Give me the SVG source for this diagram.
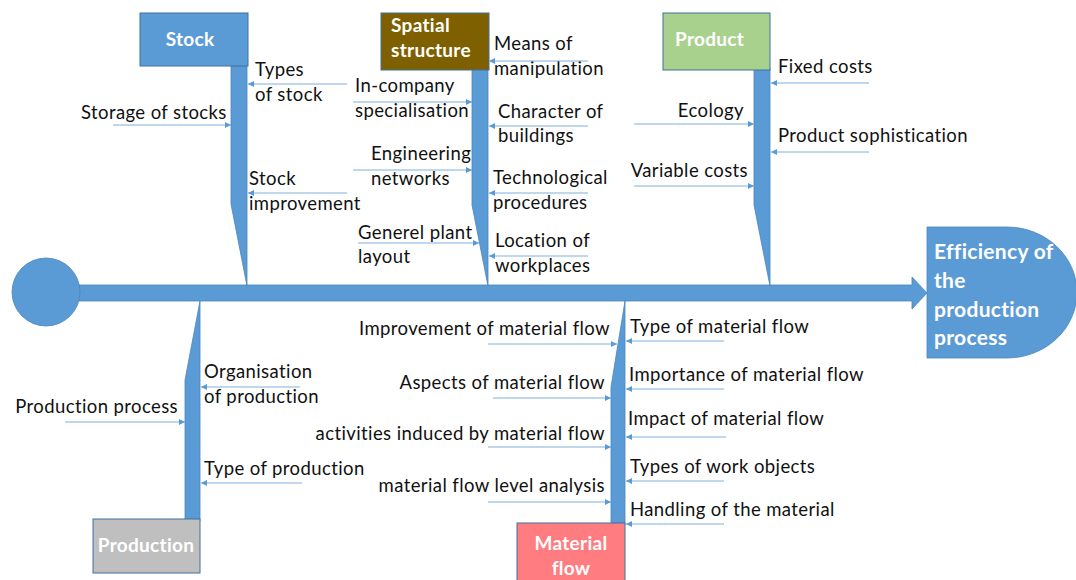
<svg xmlns="http://www.w3.org/2000/svg" width="1076" height="580" viewBox="0 0 1076 580">
  <style>
    .bone { fill: #5B9BD5; stroke: #4A86BE; stroke-width: 0.8; }
    .box { stroke: #41719C; stroke-width: 1; }
    .cause { fill: none; stroke: #7FB0DF; stroke-width: 1; marker-end: url(#tip); }
    .t { font-family: Lato, "Liberation Sans", sans-serif; font-size: 18.5px; letter-spacing: 0.4px; fill: #111; }
    .h { font-family: Lato, "Liberation Sans", sans-serif; font-weight: bold; font-size: 19px; letter-spacing: 0.3px; fill: #fff; }
    .head { font-family: Lato, "Liberation Sans", sans-serif; font-weight: bold; font-size: 21px; letter-spacing: 0.3px; fill: #fff; }
    .r { text-anchor: end; }
    .c { text-anchor: middle; }
  </style>
  <defs>
    <marker id="tip" markerUnits="userSpaceOnUse" markerWidth="7" markerHeight="7" refX="6" refY="3.5" orient="auto">
      <path d="M0,0.5 L6,3.5 L0,6.5 Z" fill="#5B9BD5"/>
    </marker>
  </defs>
  <rect width="1076" height="580" fill="#fff"/>

  <!-- main spine with tail circle and arrow head -->
  <g id="spine">
    <path class="bone" d="M78,285 H912 V277 L927,293 L912,309 V301 H78 Z"/>
    <circle class="bone" cx="46" cy="292" r="34" stroke="#41719C"/>
  </g>

  <!-- effect -->
  <g id="effect">
    <path class="bone" stroke="#41719C" d="M927,227 H1007 A70,65.5 0 0 1 1007,358 H927 Z"/>
    <text class="head" x="934" y="259">Efficiency of</text>
    <text class="head" x="934" y="288">the</text>
    <text class="head" x="934" y="317">production</text>
    <text class="head" x="934" y="345">process</text>
  </g>

  <!-- Stock -->
  <g id="stock">
    <path class="bone" d="M231,65 H247 V286 L231,204 Z"/>
    <rect class="box" x="140" y="13" width="108" height="53" fill="#5B9BD5"/>
    <text class="h c" x="190" y="46">Stock</text>
    <text class="t" x="81" y="119">Storage of stocks</text>
    <text class="t" x="255" y="76">Types</text>
    <text class="t" x="255" y="101">of stock</text>
    <text class="t" x="249" y="185">Stock</text>
    <text class="t" x="249" y="210">improvement</text>
  </g>

  <!-- Spatial structure -->
  <g id="spatial-structure">
    <path class="bone" d="M472,68 H488 V286 L472,205 Z"/>
    <rect class="box" x="381" y="13" width="108" height="57" fill="#7F6000"/>
    <text class="h" x="391" y="32">Spatial</text>
    <text class="h" x="391" y="57">structure</text>
    <text class="t" x="355" y="92">In-company</text>
    <text class="t" x="355" y="117">specialisation</text>
    <text class="t" x="371" y="160">Engineering</text>
    <text class="t" x="371" y="185">networks</text>
    <text class="t" x="358" y="239">Generel plant</text>
    <text class="t" x="358" y="263">layout</text>
    <text class="t" x="494" y="50">Means of</text>
    <text class="t" x="494" y="75">manipulation</text>
    <text class="t" x="498" y="118">Character of</text>
    <text class="t" x="498" y="142">buildings</text>
    <text class="t" x="493" y="184">Technological</text>
    <text class="t" x="493" y="209">procedures</text>
    <text class="t" x="495" y="247">Location of</text>
    <text class="t" x="495" y="272">workplaces</text>
  </g>

  <!-- Product -->
  <g id="product">
    <path class="bone" d="M754,68 H770 V286 L754,205 Z"/>
    <rect class="box" x="663" y="13" width="107" height="57" fill="#A9D18E"/>
    <text class="h" x="675" y="46">Product</text>
    <text class="t r" x="744" y="117">Ecology</text>
    <text class="t r" x="748" y="177">Variable costs</text>
    <text class="t" x="778" y="73">Fixed costs</text>
    <text class="t" x="778" y="142">Product sophistication</text>
  </g>

  <!-- Production -->
  <g id="production">
    <path class="bone" d="M200,301 V521 H185 V380 Z"/>
    <rect class="box" x="93" y="519" width="107" height="54" fill="#BFBFBF"/>
    <text class="h c" x="146" y="552">Production</text>
    <text class="t r" x="178" y="413">Production process</text>
    <text class="t" x="204" y="378">Organisation</text>
    <text class="t" x="204" y="403">of production</text>
    <text class="t" x="204" y="475">Type of production</text>
  </g>

  <!-- Material flow -->
  <g id="material-flow">
    <path class="bone" d="M625,301 V525 H611 V387 Z"/>
    <rect class="box" x="517" y="523" width="108" height="62" fill="#FF7C80"/>
    <text class="h c" x="571" y="550">Material</text>
    <text class="h c" x="571" y="575">flow</text>
    <text class="t r" x="610" y="335">Improvement of material flow</text>
    <text class="t r" x="605" y="389">Aspects of material flow</text>
    <text class="t r" x="605" y="440">activities induced by material flow</text>
    <text class="t r" x="605" y="492">material flow level analysis</text>
    <text class="t" x="630" y="333">Type of material flow</text>
    <text class="t" x="629" y="381">Importance of material flow</text>
    <text class="t" x="628" y="425">Impact of material flow</text>
    <text class="t" x="630" y="473">Types of work objects</text>
    <text class="t" x="630" y="516">Handling of the material</text>
  </g>

  <!-- cause arrows into the bones -->
  <g id="connectors">
    <line class="cause" x1="113" y1="125" x2="231" y2="125"/>
    <line class="cause" x1="347" y1="84" x2="248" y2="84"/>
    <line class="cause" x1="347" y1="193" x2="248" y2="193"/>

    <line class="cause" x1="353" y1="102" x2="472" y2="102"/>
    <line class="cause" x1="353" y1="170" x2="472" y2="170"/>
    <line class="cause" x1="358" y1="243" x2="479" y2="243"/>
    <line class="cause" x1="588" y1="61" x2="489" y2="61"/>
    <line class="cause" x1="588" y1="126" x2="489" y2="126"/>
    <line class="cause" x1="588" y1="193" x2="489" y2="193"/>
    <line class="cause" x1="588" y1="256" x2="489" y2="256"/>

    <line class="cause" x1="634" y1="124" x2="754" y2="124"/>
    <line class="cause" x1="634" y1="186" x2="754" y2="186"/>
    <line class="cause" x1="869" y1="83" x2="771" y2="83"/>
    <line class="cause" x1="869" y1="152" x2="771" y2="152"/>

    <line class="cause" x1="65" y1="422" x2="185" y2="422"/>
    <line class="cause" x1="300" y1="387" x2="201" y2="387"/>
    <line class="cause" x1="302" y1="483" x2="201" y2="483"/>

    <line class="cause" x1="488" y1="344" x2="617" y2="344"/>
    <line class="cause" x1="493" y1="398" x2="611" y2="398"/>
    <line class="cause" x1="488" y1="447" x2="611" y2="447"/>
    <line class="cause" x1="488" y1="502" x2="611" y2="502"/>
    <line class="cause" x1="724" y1="341" x2="626" y2="341"/>
    <line class="cause" x1="724" y1="389" x2="626" y2="389"/>
    <line class="cause" x1="726" y1="437" x2="626" y2="437"/>
    <line class="cause" x1="724" y1="481" x2="626" y2="481"/>
    <line class="cause" x1="724" y1="524" x2="626" y2="524"/>
  </g>
</svg>
